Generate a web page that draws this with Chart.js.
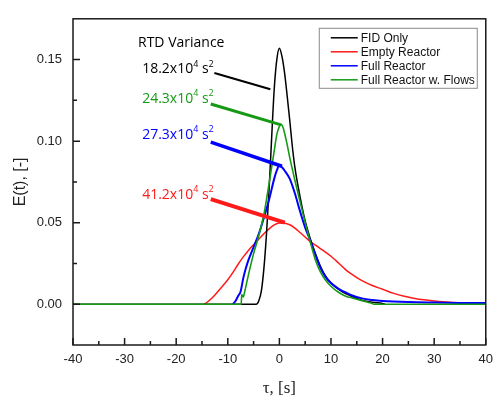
<!DOCTYPE html>
<html>
<head>
<meta charset="utf-8">
<script src="https://cdn.jsdelivr.net/npm/chart.js@4.4.1/dist/chart.umd.min.js"></script>
<style>
  html, body { margin: 0; padding: 0; background: #fff; }
  canvas { display: block; }
</style>
</head>
<body>
<canvas id="rtd" width="500" height="399"></canvas>
<script>
// tau [s] and E(t) for each run
const fidT = [-40, -4.5, -4, -3.5, -3, -2.5, -2, -1.5, -1, -0.5, 0, 0.5, 1, 1.5, 2, 2.5, 3, 4, 5, 6, 7, 8, 9, 10, 12, 14, 16, 18, 20, 20.5];
const fidE = [0, 0, 0.002, 0.008, 0.022, 0.043, 0.07, 0.102, 0.132, 0.15, 0.157, 0.152, 0.142, 0.128, 0.113, 0.097, 0.084, 0.066, 0.051, 0.04, 0.031, 0.023, 0.017, 0.013, 0.008, 0.0048, 0.0025, 0.0012, 0.0004, 0];

const emptyT = [-14.5, -14, -13, -12, -11, -10, -9, -8, -7, -6, -5, -4, -3, -2, -1, 0, 1, 2, 3, 4, 5, 6, 7, 8, 9, 10, 11, 12, 13, 14, 15, 16, 18, 20, 22, 24, 26, 28, 30, 33, 36, 38];
const emptyE = [0, 0.0012, 0.004, 0.0075, 0.0112, 0.015, 0.0195, 0.0245, 0.029, 0.033, 0.0365, 0.0398, 0.0432, 0.0462, 0.0486, 0.0498, 0.0497, 0.0487, 0.0467, 0.044, 0.0412, 0.0384, 0.0362, 0.034, 0.0318, 0.0294, 0.0266, 0.0237, 0.0208, 0.0184, 0.0163, 0.0145, 0.0115, 0.0092, 0.0068, 0.005, 0.0037, 0.0027, 0.002, 0.0012, 0.0008, 0.0006];

const fullT = [-9, -8.5, -8, -7.5, -7, -6.5, -6, -5, -4, -3, -2, -1, -0.5, 0, 0.5, 1, 2, 3, 4, 5, 6, 7, 8, 9, 10, 11, 12, 13, 14, 16, 18, 20, 25, 30, 35, 40];
const fullE = [0, 0.002, 0.005, 0.008, 0.016, 0.022, 0.027, 0.035, 0.043, 0.053, 0.064, 0.077, 0.082, 0.085, 0.084, 0.082, 0.077, 0.068, 0.057, 0.047, 0.039, 0.03, 0.022, 0.0165, 0.013, 0.0105, 0.0085, 0.007, 0.0055, 0.0036, 0.0026, 0.002, 0.0013, 0.001, 0.0008, 0.0007];

const flowsT = [-40, -7.4, -7.3, -7.0, -6.7, -6, -5, -4, -3, -2, -1, -0.5, 0, 0.3, 0.7, 1, 1.5, 2, 2.5, 3, 4, 5, 6, 7, 8, 9, 10, 11, 12, 13, 14, 15, 16, 17, 18, 18.3, 40];
const flowsE = [0, 0, 0.006, 0.0045, 0.008, 0.018, 0.031, 0.042, 0.055, 0.074, 0.094, 0.104, 0.109, 0.1103, 0.1085, 0.105, 0.098, 0.09, 0.083, 0.076, 0.063, 0.05, 0.038, 0.027, 0.0195, 0.0145, 0.011, 0.0083, 0.0063, 0.0048, 0.004, 0.0031, 0.0022, 0.0013, 0.0004, 0, 0];

const seriesNames = ["FID Only", "Empty Reactor", "Full Reactor", "Full Reactor w. Flows"];
const seriesColors = ["#000000", "#ff1a1a", "#0000ff", "#169a16"];

// axis ticks
const xMajor = [-40, -30, -20, -10, 0, 10, 20, 30, 40];
const xMinor = [-35, -25, -15, -5, 5, 15, 25, 35];
const yMajor = [0, 0.05, 0.1, 0.15];
const yMinor = [0.025, 0.075, 0.125];

// RTD variance notes (value x10^4 s^2), label anchor and leader line, in data units
const noteValues = ["18.2", "24.3", "27.3", "41.2"];
const noteColors = ["#000000", "#169a16", "#0000ff", "#ff1a1a"];
const noteLabelX = [-26.6, -26.6, -26.6, -26.6];
const noteLabelY = [0.144, 0.126, 0.1038, 0.0672];
const lineFromX = [-12.6, -13.3, -13.3, -13.3];
const lineFromY = [0.1418, 0.1228, 0.0994, 0.0644];
const lineToX = [-1.75, 0.33, 0.5, 1.05];
const lineToY = [0.1318, 0.11, 0.0846, 0.05];
const lineWidths = [2, 3, 3.5, 4];

function toPoints(t, e) {
  return t.map((v, i) => ({ x: v, y: e[i] }));
}

const frame = {
  id: "frame",
  afterDatasetsDraw(chart) {
    const { ctx, chartArea: a } = chart;
    const x = chart.scales.x;
    const y = chart.scales.y;
    ctx.save();
    ctx.strokeStyle = "#1a1a1a";
    ctx.lineWidth = 1.5;
    ctx.strokeRect(a.left, a.top, a.width, a.height);
    ctx.beginPath();
    for (const v of xMajor) {
      const px = x.getPixelForValue(v);
      ctx.moveTo(px, a.bottom);
      ctx.lineTo(px, a.bottom - 7);
    }
    for (const v of xMinor) {
      const px = x.getPixelForValue(v);
      ctx.moveTo(px, a.bottom);
      ctx.lineTo(px, a.bottom - 4);
    }
    for (const v of yMajor) {
      const py = y.getPixelForValue(v);
      ctx.moveTo(a.left, py);
      ctx.lineTo(a.left + 7, py);
    }
    for (const v of yMinor) {
      const py = y.getPixelForValue(v);
      ctx.moveTo(a.left, py);
      ctx.lineTo(a.left + 4, py);
    }
    ctx.stroke();
    ctx.restore();
  },
};

function drawSup(ctx, parts, x, y) {
  // parts: [text, isSuperscript]
  let cx = x;
  for (const [txt, sup] of parts) {
    ctx.font = sup ? "9px 'Open Sans'" : "14px 'Open Sans'";
    ctx.fillText(txt, cx, sup ? y - 5 : y);
    cx += ctx.measureText(txt).width;
  }
}

const notes = {
  id: "notes",
  afterDatasetsDraw(chart) {
    const { ctx } = chart;
    const x = chart.scales.x;
    const y = chart.scales.y;
    ctx.save();
    ctx.lineCap = "butt";
    noteValues.forEach((val, i) => {
      ctx.strokeStyle = noteColors[i];
      ctx.lineWidth = lineWidths[i];
      ctx.beginPath();
      ctx.moveTo(x.getPixelForValue(lineFromX[i]), y.getPixelForValue(lineFromY[i]));
      ctx.lineTo(x.getPixelForValue(lineToX[i]), y.getPixelForValue(lineToY[i]));
      ctx.stroke();

      ctx.fillStyle = noteColors[i];
      ctx.textBaseline = "middle";
      ctx.textAlign = "left";
      drawSup(ctx, [[val + "x10", false], ["4", true], [" s", false], ["2", true]],
        x.getPixelForValue(noteLabelX[i]), y.getPixelForValue(noteLabelY[i]));
    });
    ctx.fillStyle = "#000";
    ctx.font = "14px 'Open Sans'";
    ctx.textBaseline = "middle";
    ctx.fillText("RTD Variance", x.getPixelForValue(-27.4), y.getPixelForValue(0.16));
    ctx.restore();
  },
};

const boxLegend = {
  id: "boxLegend",
  afterDraw(chart) {
    const { ctx, chartArea: a } = chart;
    const left = a.right - 167;
    const top = a.top + 9;
    ctx.save();
    ctx.strokeStyle = "#8a8a8a";
    ctx.lineWidth = 1;
    ctx.strokeRect(left + 0.5, top + 0.5, 158, 60);
    ctx.font = "12px 'Liberation Sans', Arial";
    ctx.textBaseline = "middle";
    ctx.textAlign = "left";
    seriesNames.forEach((name, i) => {
      const ly = top + 10 + i * 14;
      ctx.strokeStyle = seriesColors[i];
      ctx.lineWidth = 1.5;
      ctx.beginPath();
      ctx.moveTo(left + 12, ly);
      ctx.lineTo(left + 39, ly);
      ctx.stroke();
      ctx.fillStyle = "#111";
      ctx.fillText(name, left + 42, ly + 1);
    });
    ctx.restore();
  },
};

const runs = [
  toPoints(fidT, fidE),
  toPoints(emptyT, emptyE),
  toPoints(fullT, fullE),
  toPoints(flowsT, flowsE),
];
const drawOrder = [2, 3, 1, 0];
const widths = [1.5, 1.5, 2, 1.6];

new Chart(document.getElementById("rtd"), {
  type: "line",
  data: {
    datasets: runs.map((pts, i) => ({
      label: seriesNames[i],
      data: pts,
      borderColor: seriesColors[i],
      borderWidth: widths[i],
      pointRadius: 0,
      fill: false,
      cubicInterpolationMode: "monotone",
      order: drawOrder[i],
    })),
  },
  options: {
    responsive: false,
    animation: false,
    devicePixelRatio: 1,
    layout: { padding: { top: 14, right: 8, left: 0, bottom: 0 } },
    plugins: {
      legend: { display: false },
      tooltip: { enabled: false },
    },
    scales: {
      x: {
        type: "linear",
        min: -40,
        max: 40,
        afterFit: (s) => { s.height = 54; },
        afterBuildTicks: (s) => { s.ticks = xMajor.map((v) => ({ value: v })); },
        grid: { display: false, drawTicks: false },
        border: { display: false },
        ticks: {
          color: "#222",
          font: { family: "'Liberation Sans', Arial", size: 13 },
          padding: 7,
          maxRotation: 0,
          autoSkip: false,
          callback: (v) => String(v),
        },
        title: {
          display: true,
          text: "τ, [s]",
          color: "#222",
          font: { family: "'Liberation Serif', 'Times New Roman'", size: 17 },
          padding: { top: 0, bottom: 0 },
        },
      },
      y: {
        min: -0.025,
        max: 0.175,
        afterFit: (s) => { s.width = 73; },
        afterBuildTicks: (s) => { s.ticks = yMajor.map((v) => ({ value: v })); },
        grid: { display: false, drawTicks: false },
        border: { display: false },
        ticks: {
          color: "#222",
          font: { family: "'Liberation Sans', Arial", size: 13 },
          padding: 11,
          callback: (v) => v.toFixed(2),
        },
        title: {
          display: true,
          text: "E(t), [-]",
          color: "#222",
          font: { family: "'Liberation Sans', Arial", size: 16 },
          padding: { top: 11, bottom: 0 },
        },
      },
    },
  },
  plugins: [frame, notes, boxLegend],
});
</script>
</body>
</html>
